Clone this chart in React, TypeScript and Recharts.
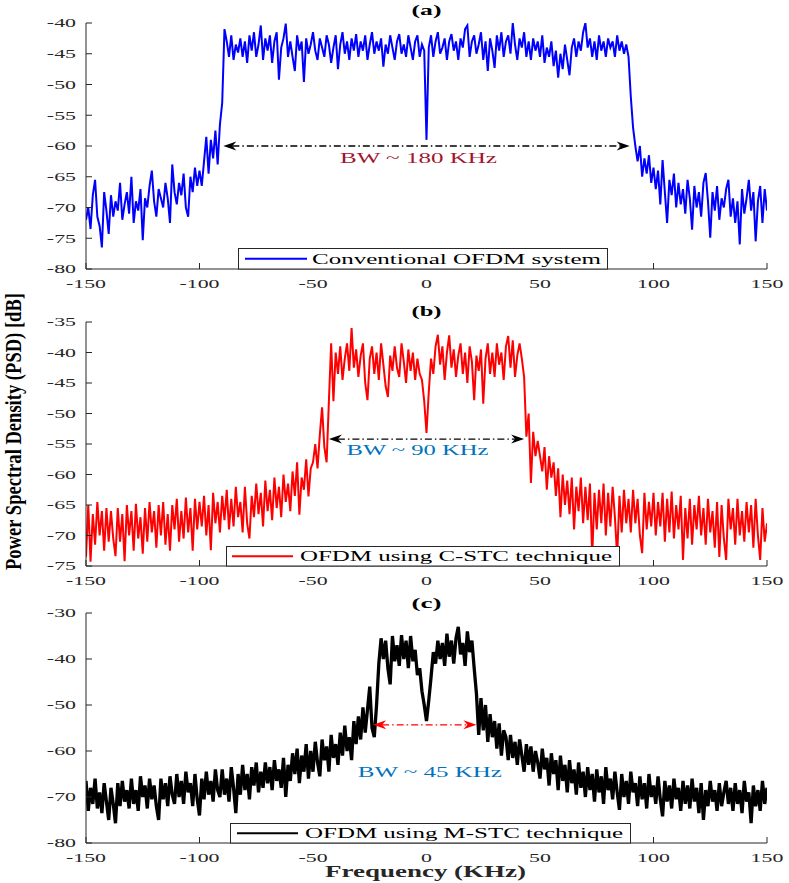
import React from 'react';
import { LineChart, Line, XAxis, YAxis, ReferenceLine, Legend } from 'recharts';

// text in the original figure is stretched sideways, so glyphs get scaled on x
const SX = 1.75;
const SERIF = '"Liberation Serif", "Times New Roman", serif';
const AXIS = '#262626';

// frequency grid, 1 kHz spacing
const freqKHz = Array.from({ length: 301 }, (_, i) => i - 150);
const xTicks = [-150, -100, -50, 0, 50, 100, 150];

// (a) conventional OFDM, dB, rows start at -150, -140, ... 140, then 150
const psdConventional = [
  -72.0, -70.0, -73.5, -68.0, -65.5, -71.5, -73.0, -76.5, -67.5, -70.5,
  -74.3, -68.0, -71.5, -69.0, -70.5, -66.0, -72.0, -69.5, -67.5, -71.0,
  -65.0, -72.5, -69.0, -70.5, -67.0, -75.3, -68.5, -70.0, -66.5, -64.0,
  -69.0, -71.5, -67.0, -68.5, -70.0, -66.0, -68.5, -72.5, -63.0, -67.5,
  -69.5, -66.0, -68.0, -64.5, -70.0, -71.5, -65.0, -67.5, -63.5, -66.5,
  -64.0, -66.5, -62.5, -58.5, -64.5, -59.0, -62.0, -57.5, -63.0, -56.5,
  -53.0, -41.0, -43.0, -45.5, -42.0, -46.0, -43.5, -44.8, -42.5, -45.5,
  -43.0, -46.5, -42.0, -44.5, -41.5, -45.5, -43.5, -40.4, -46.0, -42.5,
  -44.5, -42.0, -46.5, -43.0, -41.5, -49.2, -44.0, -42.5, -40.1, -45.5,
  -43.0, -45.5, -47.8, -42.0, -44.5, -43.0, -49.6, -42.5, -45.0, -43.5,
  -41.5, -44.5, -46.0, -42.5, -44.0, -45.5, -42.0, -43.5, -46.5, -44.0,
  -42.0, -47.5, -43.5, -41.5, -45.0, -43.0, -46.0, -42.5, -44.5, -41.8,
  -45.5, -43.0, -44.5, -42.0, -46.0, -43.5, -41.5, -45.0, -43.0, -44.5,
  -42.5, -47.1, -43.5, -45.0, -42.0, -44.0, -46.0, -43.0, -41.8, -45.0,
  -43.5, -45.5, -42.0, -44.0, -46.0, -43.0, -42.0, -45.5, -43.5, -44.5,
  -59.0, -44.0, -42.0, -45.5, -43.0, -41.5, -45.0, -44.0, -42.5, -46.0,
  -43.0, -41.8, -44.5, -43.0, -46.0, -42.5, -44.0, -41.0, -40.4, -45.5,
  -43.0, -42.0, -45.0, -43.5, -41.5, -46.0, -43.0, -47.8, -42.5, -44.5,
  -47.3, -42.0, -44.5, -41.5, -45.5, -43.0, -42.0, -45.0, -40.0, -43.5,
  -46.0, -42.5, -44.0, -41.5, -45.5, -43.0, -46.0, -42.5, -44.5, -43.0,
  -45.5, -42.0, -46.5, -44.0, -45.5, -43.0, -47.0, -44.5, -48.9, -45.0,
  -47.5, -43.5, -46.0, -48.5, -44.0, -42.5, -45.5, -43.0, -44.5, -41.5,
  -40.0, -44.0, -42.5, -45.5, -43.0, -46.0, -42.0, -44.5, -43.0, -45.5,
  -42.5, -44.0, -43.0, -45.5, -42.0, -44.5, -43.0, -45.0, -43.5, -45.5,
  -52.0, -57.0, -60.0, -62.5, -60.0, -65.0, -62.0, -64.5, -61.5, -66.0,
  -63.5, -67.0, -64.0, -69.5, -62.3, -67.5, -72.5, -65.5, -68.0, -64.5,
  -70.0, -66.0, -69.5, -67.0, -71.0, -65.5, -68.5, -73.6, -66.5, -70.0,
  -67.5, -71.5, -66.0, -64.4, -69.0, -74.9, -67.5, -70.5, -66.5, -72.0,
  -68.5, -70.0, -67.0, -65.5, -71.5, -68.5, -72.5, -69.0, -76.0, -67.0,
  -71.0, -68.5, -65.5, -70.5, -67.5, -75.5, -69.0, -66.5, -72.5, -67.0,
  -70.5,
];

// (b) OFDM with C-STC
const psdCSTC = [
  -73.5, -65.0, -74.3, -66.5, -71.5, -64.5, -70.0, -66.0, -72.5, -65.5,
  -71.0, -66.0, -70.5, -73.4, -65.5, -71.0, -66.5, -74.2, -65.0, -70.0,
  -66.0, -72.5, -64.8, -70.5, -67.0, -73.0, -65.5, -71.0, -64.5, -69.5,
  -66.0, -72.0, -65.0, -70.0, -64.5, -71.5, -66.5, -72.5, -65.0, -69.0,
  -64.0, -71.0, -66.0, -70.5, -63.8, -69.5, -65.5, -72.5, -64.0, -69.0,
  -64.5, -68.5, -63.5, -70.0, -65.0, -72.4, -63.0, -68.0, -64.5, -69.5,
  -63.5, -67.5, -62.5, -69.0, -64.0, -68.5, -62.0, -67.0, -64.5, -69.5,
  -62.0, -68.0, -70.5, -63.5, -67.0, -61.5, -66.5, -63.0, -68.5, -61.0,
  -66.0, -62.5, -67.5, -60.5, -65.5, -62.0, -67.0, -60.0, -64.5, -61.5,
  -66.0, -59.5, -63.5, -58.0, -66.6, -60.5, -62.5, -57.5, -63.6, -59.0,
  -58.0, -55.0, -59.0, -53.5, -49.0, -55.5, -58.0, -48.0, -38.5, -48.0,
  -40.0, -43.5, -39.0, -44.5, -41.0, -38.5, -43.0, -36.0, -42.5, -39.5,
  -44.0, -40.5, -38.5, -45.0, -47.8, -41.0, -39.0, -43.5, -40.0, -44.5,
  -38.5, -42.0, -45.5, -47.3, -40.5, -43.0, -39.0, -42.5, -44.0, -38.5,
  -41.5, -45.0, -39.5, -43.0, -40.0, -44.5, -41.0, -43.5, -44.5, -48.0,
  -53.2, -46.5, -41.0, -43.5, -39.0, -37.1, -42.0, -39.0, -44.5, -40.0,
  -37.2, -42.5, -39.5, -44.0, -40.5, -38.5, -43.5, -40.0, -45.0, -39.0,
  -41.5, -47.8, -40.5, -43.0, -39.5, -48.4, -41.0, -38.5, -43.5, -40.0,
  -44.0, -38.5, -42.0, -40.0, -44.5, -39.0, -37.3, -42.5, -38.0, -44.0,
  -40.5, -38.5, -41.0, -44.0, -53.8, -50.0, -61.4, -53.0, -57.0, -54.5,
  -57.0, -59.5, -55.5, -62.5, -57.0, -60.5, -58.0, -63.5, -59.0, -67.0,
  -60.0, -65.0, -61.0, -66.5, -60.5, -69.0, -62.0, -66.0, -60.5, -68.0,
  -62.0, -67.5, -61.5, -73.5, -63.0, -69.0, -62.5, -68.0, -61.5, -70.0,
  -63.0, -68.5, -62.0, -67.0, -73.5, -63.5, -69.5, -62.5, -68.0, -64.0,
  -69.5, -62.5, -68.0, -64.0, -70.0, -72.9, -63.0, -69.0, -64.5, -68.5,
  -63.0, -70.0, -64.5, -68.5, -63.0, -71.0, -64.0, -69.5, -62.8, -70.5,
  -65.0, -69.0, -63.5, -74.0, -65.5, -70.5, -64.0, -71.5, -65.0, -69.0,
  -63.5, -70.0, -65.5, -71.5, -64.0, -69.5, -66.0, -72.0, -64.5, -73.5,
  -65.0, -70.5, -74.0, -64.0, -69.0, -65.5, -71.5, -64.0, -70.0, -66.0,
  -71.0, -64.5, -69.5, -65.0, -72.0, -64.0, -70.0, -74.0, -65.5, -71.0,
  -68.0,
];

// (c) OFDM with M-STC
const psdMSTC = [
  -66.5, -73.0, -68.0, -71.5, -66.0, -72.5, -69.0, -73.5, -67.0, -71.0,
  -75.0, -68.0, -71.5, -75.7, -67.0, -72.0, -66.5, -71.0, -68.5, -72.5,
  -66.0, -71.5, -68.5, -73.0, -65.5, -70.0, -67.5, -72.5, -66.0, -70.5,
  -67.5, -72.0, -75.0, -66.0, -70.5, -67.0, -72.0, -65.5, -69.5, -71.5,
  -65.0, -70.0, -66.5, -71.5, -64.5, -69.0, -67.0, -72.0, -65.0, -70.5,
  -74.0, -66.0, -70.5, -64.5, -69.5, -66.5, -71.0, -64.0, -68.5, -70.0,
  -64.0, -69.5, -66.0, -71.0, -63.5, -68.0, -73.5, -65.0, -69.5, -63.0,
  -68.5, -65.0, -70.5, -63.5, -67.5, -62.5, -69.0, -64.5, -68.0, -62.5,
  -67.0, -63.5, -68.5, -62.0, -66.5, -64.0, -68.0, -61.5, -70.0, -63.0,
  -66.5, -60.5, -65.0, -59.5, -67.0, -61.0, -64.5, -58.5, -66.0, -60.0,
  -64.5, -58.0, -62.5, -65.5, -57.5, -62.0, -59.0, -64.5, -56.5, -61.5,
  -58.5, -63.0, -56.0, -61.0, -54.5, -60.0, -57.0, -62.0, -53.5, -58.5,
  -52.5, -57.5, -50.5, -56.0, -51.0, -46.0, -55.0, -57.0, -50.0, -41.0,
  -35.5, -40.0, -36.0, -42.0, -45.5, -35.0, -40.5, -37.0, -41.5, -34.8,
  -40.0, -36.0, -42.0, -35.0, -40.5, -38.0, -43.5, -42.0, -47.0, -50.0,
  -53.5, -49.0, -44.0, -38.5, -41.0, -36.0, -40.0, -36.5, -41.5, -34.5,
  -39.5, -36.0, -41.0, -35.5, -33.0, -39.0, -36.5, -41.5, -34.0, -38.5,
  -36.0, -42.0, -47.5, -56.5, -48.5, -55.5, -50.0, -58.0, -52.0, -57.0,
  -53.5, -59.5, -54.0, -61.0, -55.5, -57.0, -62.0, -56.5, -61.5, -58.0,
  -63.0, -57.5, -61.0, -64.5, -58.5, -63.0, -59.0, -64.5, -60.0, -62.5,
  -66.0, -59.5, -64.0, -61.5, -67.5, -60.5, -65.0, -62.0, -68.5, -61.0,
  -66.5, -63.0, -69.0, -62.0, -67.0, -64.0, -69.5, -62.5, -68.0, -64.5,
  -70.0, -63.5, -68.5, -65.0, -71.0, -64.0, -69.0, -65.5, -71.5, -63.5,
  -68.5, -66.0, -70.5, -64.5, -69.0, -72.8, -65.0, -70.0, -66.5, -71.5,
  -64.5, -69.0, -67.0, -72.0, -65.5, -70.5, -67.0, -72.5, -65.0, -70.0,
  -67.5, -71.5, -65.5, -70.5, -74.2, -66.5, -71.0, -67.5, -72.5, -66.0,
  -70.5, -68.0, -73.0, -66.5, -71.5, -67.5, -72.5, -66.0, -71.0, -68.0,
  -73.5, -67.0, -75.0, -68.5, -72.0, -66.5, -71.0, -68.5, -73.0, -67.0,
  -72.0, -69.0, -66.5, -71.5, -68.0, -73.0, -67.0, -71.5, -68.5, -73.5,
  -66.5, -71.0, -69.0, -75.7, -67.5, -72.0, -68.5, -73.0, -66.5, -71.5,
  -68.0,
];

const yTicksA = [-80, -75, -70, -65, -60, -55, -50, -45, -40];
const yTicksB = [-75, -70, -65, -60, -55, -50, -45, -40, -35];
const yTicksC = [-80, -70, -60, -50, -40, -30];

const rows = freqKHz.map((f, i) => ({
  f,
  conv: psdConventional[i],
  cstc: psdCSTC[i],
  mstc: psdMSTC[i],
}));

const BottomTick = (p: any) => (
  <g>
    <line x1={p.x} x2={p.x} y1={p.y} y2={p.y - 6} stroke={AXIS} />
    <text
      transform={`translate(${p.x},${p.y + 18.5}) scale(${SX},1)`}
      textAnchor="middle"
      fontFamily={SERIF}
      fontSize={12.5}
      fill={AXIS}
    >
      {p.payload.value}
    </text>
  </g>
);
const TopTick = (p: any) => <line x1={p.x} x2={p.x} y1={p.y} y2={p.y + 6} stroke={AXIS} />;
const LeftTick = (p: any) => (
  <g>
    <line x1={p.x} x2={p.x + 6} y1={p.y} y2={p.y} stroke={AXIS} />
    <text
      transform={`translate(${p.x - 10},${p.y + 4.3}) scale(${SX},1)`}
      textAnchor="end"
      fontFamily={SERIF}
      fontSize={12.5}
      fill={AXIS}
    >
      {p.payload.value}
    </text>
  </g>
);
const RightTick = (p: any) => <line x1={p.x} x2={p.x - 6} y1={p.y} y2={p.y} stroke={AXIS} />;

type Bw = { from: number; to: number; at: number; color: string; text: string; textColor: string; dx: number; dy: number; tw: number };
type Lg = { left: number; top: number; width: number; height: number; lineFrom: number; lineTo: number; textX: number; textW: number };

const bwShape = (bw: Bw) => (p: any) => {
  const { x1, x2, y1 } = p;
  const y = y1;
  const head = 13;
  const notch = 9;
  const half = 4.5;
  return (
    <g>
      <line x1={x1 + notch} x2={x2 - notch} y1={y} y2={y} stroke={bw.color} strokeWidth={1.3} strokeDasharray="7 3 1.5 3" />
      <polygon points={`${x1},${y} ${x1 + head},${y - half} ${x1 + notch},${y} ${x1 + head},${y + half}`} fill={bw.color} />
      <polygon points={`${x2},${y} ${x2 - head},${y - half} ${x2 - notch},${y} ${x2 - head},${y + half}`} fill={bw.color} />
      <text
        x={(x1 + x2) / 2 + bw.dx}
        y={y + bw.dy}
        textAnchor="middle"
        fontFamily={SERIF}
        fontSize={15}
        fill={bw.textColor}
        textLength={bw.tw}
        lengthAdjust="spacingAndGlyphs"
      >
        {bw.text}
      </text>
    </g>
  );
};

type PanelProps = {
  top: number;
  height: number;
  marginTop: number;
  xHeight: number;
  dataKey: string;
  name: string;
  color: string;
  strokeWidth: number;
  yDomain: [number, number];
  yTicks: number[];
  bw: Bw;
  lg: Lg;
};

const Panel = ({ top, height, marginTop, xHeight, dataKey, name, color, strokeWidth, yDomain, yTicks, bw, lg }: PanelProps) => (
  <div style={{ position: 'absolute', left: 0, top }}>
    <LineChart width={789} height={height} data={rows} margin={{ top: marginTop, right: 22, bottom: 0, left: 26 }}>
      <XAxis
        dataKey="f"
        type="number"
        domain={[-150, 150]}
        ticks={xTicks}
        allowDataOverflow
        height={xHeight}
        stroke={AXIS}
        tickSize={0}
        tickMargin={0}
        tickLine={false}
        tick={<BottomTick />}
      />
      <XAxis
        xAxisId="top"
        orientation="top"
        dataKey="f"
        type="number"
        domain={[-150, 150]}
        ticks={xTicks}
        allowDataOverflow
        height={0}
        stroke={AXIS}
        tickSize={0}
        tickMargin={0}
        tickLine={false}
        tick={<TopTick />}
      />
      <YAxis
        type="number"
        domain={yDomain}
        ticks={yTicks}
        allowDataOverflow
        width={60}
        stroke={AXIS}
        tickSize={0}
        tickMargin={0}
        tickLine={false}
        tick={<LeftTick />}
      />
      <YAxis
        yAxisId="right"
        orientation="right"
        type="number"
        domain={yDomain}
        ticks={yTicks}
        allowDataOverflow
        width={0}
        stroke={AXIS}
        tickSize={0}
        tickMargin={0}
        tickLine={false}
        tick={<RightTick />}
      />
      <Line
        type="linear"
        dataKey={dataKey}
        name={name}
        stroke={color}
        strokeWidth={strokeWidth}
        strokeLinejoin="miter"
        dot={false}
        activeDot={false}
        isAnimationActive={false}
      />
      <ReferenceLine
        segment={[{ x: bw.from, y: bw.at }, { x: bw.to, y: bw.at }]}
        shape={bwShape(bw)}
      />
      <Legend
        layout="horizontal"
        verticalAlign="middle"
        align="center"
        wrapperStyle={{ left: lg.left, top: lg.top - top, width: lg.width, height: lg.height, margin: 0, padding: 0 }}
        content={() => (
          <svg width={lg.width} height={lg.height} style={{ display: 'block' }}>
            <rect x={0.5} y={0.5} width={lg.width - 1} height={lg.height - 1} fill="#fff" stroke={AXIS} />
            <line x1={lg.lineFrom - lg.left} x2={lg.lineTo - lg.left} y1={lg.height / 2} y2={lg.height / 2} stroke={color} strokeWidth={2} />
            <text
              x={lg.textX - lg.left}
              y={lg.height / 2 + 5}
              fontFamily={SERIF}
              fontSize={14}
              fill="#000"
              textLength={lg.textW}
              lengthAdjust="spacingAndGlyphs"
            >
              {name}
            </text>
          </svg>
        )}
      />
    </LineChart>
  </div>
);

const Title = ({ text, y }: { text: string; y: number }) => (
  <text x={426.5} y={y} textAnchor="middle" fontFamily={SERIF} fontWeight="bold" fontSize={15} fill="#000" textLength={30} lengthAdjust="spacingAndGlyphs">
    {text}
  </text>
);

export default function App() {
  return (
    <div style={{ position: 'relative', width: 789, height: 883, background: '#fff', overflow: 'hidden' }}>
      <style>{'body{margin:0}'}</style>
      <Panel
        top={0}
        height={291}
        marginTop={23}
        xHeight={22}
        dataKey="conv"
        name="Conventional OFDM system"
        color="#0000ff"
        strokeWidth={2}
        yDomain={[-80, -40]}
        yTicks={yTicksA}
        bw={{ from: -89.5, to: 89.5, at: -60, color: '#000', text: 'BW ~ 180 KHz', textColor: '#a2142f', dx: -8, dy: 17, tw: 157 }}
        lg={{ left: 238, top: 248, width: 370, height: 21.5, lineFrom: 245, lineTo: 307, textX: 312, textW: 289 }}
      />
      <Panel
        top={300}
        height={290}
        marginTop={22}
        xHeight={24}
        dataKey="cstc"
        name="OFDM using C-STC technique"
        color="#ff0000"
        strokeWidth={2}
        yDomain={[-75, -35]}
        yTicks={yTicksB}
        bw={{ from: -43, to: 43, at: -54.2, color: '#000', text: 'BW ~ 90 KHz', textColor: '#0072bd', dx: -9, dy: 16, tw: 142 }}
        lg={{ left: 226, top: 546, width: 394, height: 20.5, lineFrom: 232, lineTo: 293, textX: 300, textW: 312 }}
      />
      <Panel
        top={590}
        height={275}
        marginTop={23}
        xHeight={22}
        dataKey="mstc"
        name="OFDM using M-STC technique"
        color="#000000"
        strokeWidth={3.3}
        yDomain={[-80, -30]}
        yTicks={yTicksC}
        bw={{ from: -23.5, to: 22, at: -54.3, color: '#ff0000', text: 'BW ~ 45 KHz', textColor: '#0072bd', dx: 5, dy: 52, tw: 144 }}
        lg={{ left: 230, top: 823, width: 401, height: 20.5, lineFrom: 237, lineTo: 298, textX: 305, textW: 318 }}
      />
      <svg width={789} height={883} style={{ position: 'absolute', left: 0, top: 0, pointerEvents: 'none' }}>
        <Title text="(a)" y={15} />
        <Title text="(b)" y={316} />
        <Title text="(c)" y={607.5} />
        <text
          transform="translate(20.5,431.5) rotate(-90) scale(1,1.4)"
          textAnchor="middle"
          fontFamily={SERIF}
          fontWeight="bold"
          fontSize={17}
          fill="#000"
          textLength={277}
          lengthAdjust="spacingAndGlyphs"
        >
          Power Spectral Density (PSD) [dB]
        </text>
        <text
          x={425.5}
          y={876.7}
          textAnchor="middle"
          fontFamily={SERIF}
          fontWeight="bold"
          fontSize={16}
          fill="#262626"
          textLength={201}
          lengthAdjust="spacingAndGlyphs"
        >
          Frequency (KHz)
        </text>
      </svg>
    </div>
  );
}
